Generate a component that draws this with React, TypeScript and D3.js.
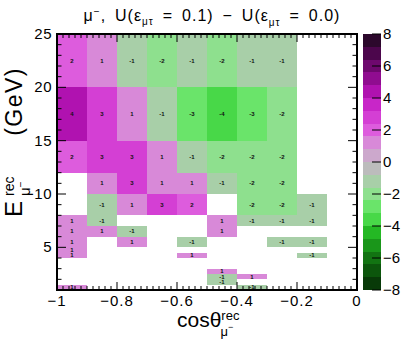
import React from 'react';
import * as d3 from 'd3';

// bin edges of the 2D histogram
const cosEdges = [-1, -0.9, -0.8, -0.7, -0.6, -0.5, -0.4, -0.3, -0.2, -0.1, 0];
const energyEdges = [1, 1.5, 2, 2.5, 3, 3.5, 4, 4.5, 5, 6, 7, 8, 10, 12, 15, 20, 25];

// one row per energy bin (lowest first), one value per cos bin, null = empty cell
const diffValues = [
  [1, null, null, null, null, null, -1, null, null, null],
  [null, null, null, null, null, -1, null, null, null, null],
  [null, null, null, null, null, -1, 1, null, null, null],
  [null, null, null, null, null, 1, null, null, null, null],
  [null, null, null, null, null, null, null, null, null, null],
  [null, null, null, null, null, null, null, null, null, null],
  [1, null, null, null, 1, null, null, null, -1, null],
  [1, null, null, null, null, null, null, null, null, null],
  [1, null, 1, null, -1, null, null, -1, -1, null],
  [1, 1, -1, null, null, 1, null, null, null, null],
  [1, -1, null, null, null, 1, -1, -1, -1, null],
  [null, -1, 1, 3, 2, null, -2, -2, -1, null],
  [null, 1, 3, 1, 1, -1, -2, -2, null, null],
  [2, 3, 3, 1, -1, -2, -2, -2, null, null],
  [4, 3, 1, -1, -3, -4, -3, -2, null, null],
  [2, 1, -1, -2, -1, -2, -1, -1, null, null],
];

const xTickValues = [-1, -0.8, -0.6, -0.4, -0.2, 0];
const yTickValues = [5, 10, 15, 20, 25];
const zTickValues = [-8, -6, -4, -2, 0, 2, 4, 6, 8];

// 20 contour colours from -8 to 8
const paletteColors = [
  '#083a08', '#0c560c', '#127412', '#1a961a', '#24b824',
  '#48d848', '#6ae46a', '#8ee08e', '#a8cfa8', '#bcbcbc',
  '#cca8cc', '#d889d8', '#dd5cdd', '#d43fd4', '#c826c8',
  '#b012b0', '#900c90', '#6e086e', '#4c064c', '#2c082c',
];

const W = 407;
const H = 344;
const frame = { left: 57, right: 357, top: 34, bottom: 290 };
const pal = { left: 363, right: 381 };
const font = '"Liberation Sans", Arial, Helvetica, sans-serif';

const fmt = (v: number) => (v < 0 ? '\u2212' + Math.abs(v) : String(v));

export default function App() {
  const x = d3.scaleLinear().domain([-1, 0]).range([frame.left, frame.right]);
  const y = d3.scaleLinear().domain([1, 25]).range([frame.bottom, frame.top]);
  const z = d3.scaleLinear().domain([-8, 8]).range([frame.bottom, frame.top]);
  const color = d3.scaleQuantize<string>().domain([-8, 8]).range(paletteColors);

  const cells: { x0: number; x1: number; y0: number; y1: number; v: number }[] = [];
  diffValues.forEach((row, j) => {
    row.forEach((v, i) => {
      if (v === null) return;
      cells.push({ x0: cosEdges[i], x1: cosEdges[i + 1], y0: energyEdges[j], y1: energyEdges[j + 1], v });
    });
  });

  const xMinor = x.ticks(50);
  const yMinor = y.ticks(24);
  const bands = d3.range(paletteColors.length).map((k) => {
    const step = 16 / paletteColors.length;
    return { lo: -8 + k * step, hi: -8 + (k + 1) * step, c: paletteColors[k] };
  });

  return (
    <svg width={W} height={H} style={{ position: 'absolute', left: 0, top: 0, background: '#fff' }} fontFamily={font}>
      {/* title */}
      <text x={212} y={21} textAnchor="middle" fontSize={16} letterSpacing={1} wordSpacing={3.5}>
        μ<tspan fontSize={10} dy={-6}>−</tspan>
        <tspan dy={6}>, U(ε</tspan>
        <tspan fontSize={10} dy={4}>μτ</tspan>
        <tspan dy={-4}> = 0.1) − U(ε</tspan>
        <tspan fontSize={10} dy={5}>μτ</tspan>
        <tspan dy={-5}> = 0.0)</tspan>
      </text>

      {/* cells */}
      <g shapeRendering="crispEdges">
        {cells.map((c, k) => (
          <rect key={k} x={x(c.x0)} y={y(c.y1)} width={x(c.x1) - x(c.x0)} height={y(c.y0) - y(c.y1)} fill={color(c.v)} />
        ))}
      </g>
      <g fontSize={6} fontWeight="bold" fill="#111" textAnchor="middle">
        {cells.map((c, k) => (
          <text key={k} x={x((c.x0 + c.x1) / 2)} y={y((c.y0 + c.y1) / 2)} dominantBaseline="central">
            {c.v}
          </text>
        ))}
      </g>

      {/* frame and ticks */}
      <g stroke="#000" fill="none">
        {xMinor.map((t, k) => {
          const major = xTickValues.some((m) => Math.abs(m - t) < 1e-9);
          const len = major ? 8 : 4;
          return (
            <g key={'x' + k}>
              <line x1={x(t)} x2={x(t)} y1={frame.bottom} y2={frame.bottom - len} />
              <line x1={x(t)} x2={x(t)} y1={frame.top} y2={frame.top + len} />
            </g>
          );
        })}
        {yMinor.map((t, k) => {
          const major = yTickValues.includes(t);
          const len = major ? 9 : 4.5;
          return (
            <g key={'y' + k}>
              <line x1={frame.left} x2={frame.left + len} y1={y(t)} y2={y(t)} />
              <line x1={frame.right} x2={frame.right - len} y1={y(t)} y2={y(t)} />
            </g>
          );
        })}
        <rect x={frame.left} y={frame.top} width={frame.right - frame.left} height={frame.bottom - frame.top} strokeWidth={2} />
      </g>

      {/* x tick labels */}
      <g fontSize={15} textAnchor="middle" letterSpacing={1}>
        {xTickValues.map((t) => (
          <text key={t} x={x(t)} y={306}>{fmt(t)}</text>
        ))}
      </g>
      {/* y tick labels */}
      <g fontSize={15} textAnchor="end" letterSpacing={0.5}>
        {yTickValues.map((t) => (
          <text key={t} x={52} y={y(t) + 5}>{t}</text>
        ))}
      </g>

      {/* x title */}
      <text x={177} y={327} fontSize={21}>
        cosθ
        <tspan fontSize={13} dy={-7}>rec</tspan>
        <tspan fontSize={13} dx={-19} dy={16}>μ</tspan>
        <tspan fontSize={9} dy={-6}>−</tspan>
      </text>

      {/* y title */}
      <g transform="translate(22,0) rotate(-90)">
        <text x={-217} y={0} fontSize={24}>E</text>
        <text x={-196} y={-8} fontSize={14}>rec</text>
        <text x={-196} y={8} fontSize={15}>
          μ<tspan fontSize={10} dy={-6}>−</tspan>
        </text>
        <text x={-67} y={0} fontSize={23} textAnchor="end" letterSpacing={1.5}>(GeV)</text>
      </g>

      {/* palette */}
      <g shapeRendering="crispEdges">
        {bands.map((b, k) => (
          <rect key={k} x={pal.left} y={z(b.hi)} width={pal.right - pal.left} height={z(b.lo) - z(b.hi)} fill={b.c} />
        ))}
      </g>
      <g stroke="#000">
        {zTickValues.map((t) => (
          <line key={t} x1={pal.right} x2={pal.right - 9} y1={z(t)} y2={z(t)} />
        ))}
      </g>
      <g fontSize={15}>
        {zTickValues.map((t) => (
          <text key={t} x={383} y={z(t) + 5}>{fmt(t)}</text>
        ))}
      </g>
    </svg>
  );
}
